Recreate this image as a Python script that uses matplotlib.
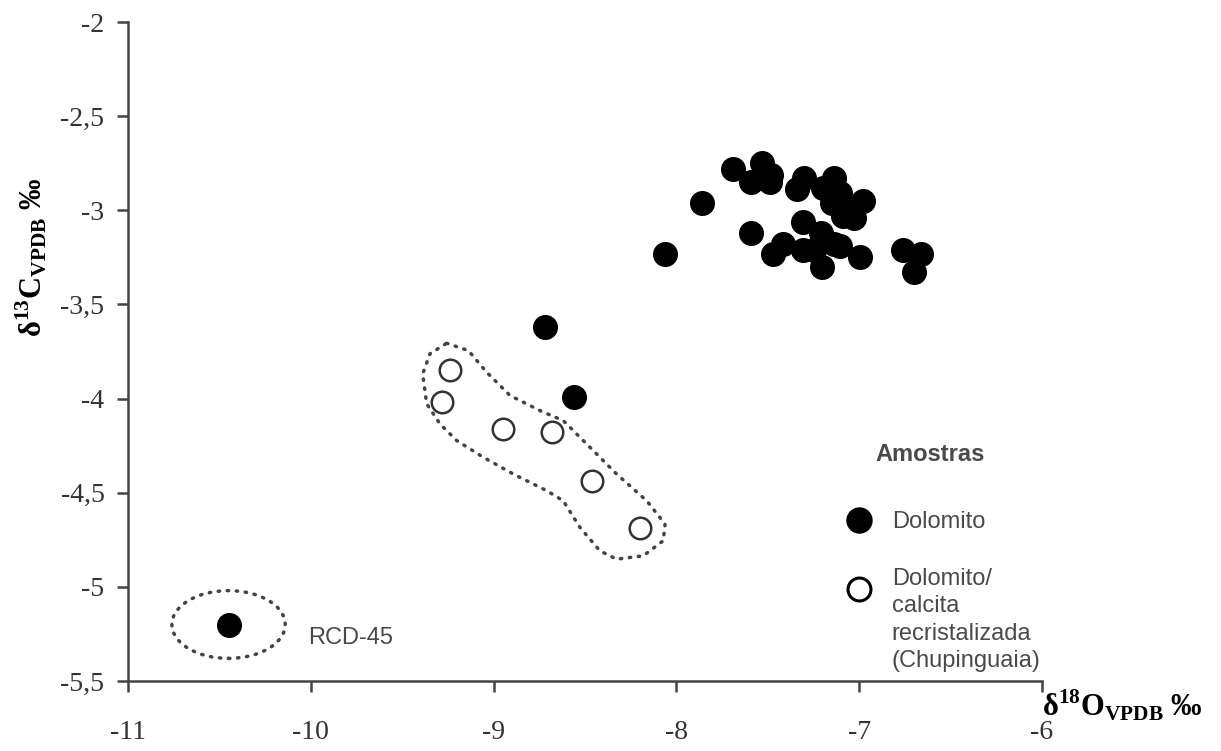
import matplotlib
matplotlib.use("Agg")
import matplotlib.pyplot as plt
from matplotlib.patches import Ellipse

# delta18O (x) and delta13C (y), per mil VPDB
dolomito_x = [-8.06, -7.86, -7.69, -7.53, -7.59, -7.49, -7.48, -7.34, -7.30, -7.14,
              -7.20, -7.105, -7.15, -6.98, -7.03, -7.09, -7.07, -7.59, -7.31, -7.415,
              -7.47, -7.31, -7.21, -7.14, -7.25, -7.205, -7.105, -6.995, -6.76, -6.66,
              -6.70, -8.72, -8.56, -10.45]
dolomito_y = [-3.23, -2.96, -2.78, -2.75, -2.85, -2.85, -2.81, -2.885, -2.83, -2.83,
              -2.88, -2.91, -2.96, -2.95, -3.04, -3.03, -2.98, -3.12, -3.06, -3.18,
              -3.23, -3.21, -3.12, -3.18, -3.21, -3.30, -3.19, -3.25, -3.21, -3.23,
              -3.33, -3.62, -3.99, -5.20]

recrist_x = [-9.24, -9.28, -8.95, -8.68, -8.46, -8.20]
recrist_y = [-3.85, -4.02, -4.16, -4.18, -4.44, -4.69]

# dotted outline around the recrystallised group
outline_x = [-9.257, -9.138, -9.038, -8.910, -8.746, -8.619, -8.491, -8.327, -8.162, -8.062,
             -8.072, -8.181, -8.327, -8.418, -8.527, -8.619, -8.710, -8.892, -9.056, -9.202,
             -9.293, -9.366, -9.388, -9.348, -9.257]
outline_y = [-3.706, -3.745, -3.860, -3.984, -4.064, -4.117, -4.241, -4.401, -4.543, -4.667,
             -4.755, -4.835, -4.853, -4.809, -4.685, -4.543, -4.489, -4.401, -4.312, -4.223,
             -4.135, -4.028, -3.869, -3.762, -3.706]

xticks = [-11, -10, -9, -8, -7, -6]
yticks = [-2, -2.5, -3, -3.5, -4, -4.5, -5, -5.5]
ytick_labels = ["-2", "-2,5", "-3", "-3,5", "-4", "-4,5", "-5", "-5,5"]

plt.rcParams["mathtext.fontset"] = "custom"
plt.rcParams["mathtext.bf"] = "Liberation Serif:bold"
plt.rcParams["mathtext.rm"] = "Liberation Serif:bold"

AX = "#444444"
TXT = "#4a4a4a"
SANS = "Liberation Sans"

fig = plt.figure(figsize=(12.21, 7.51), dpi=100)
ax = fig.add_axes([128 / 1221, (751 - 681) / 751, 914 / 1221, 659 / 751])

ax.plot(dolomito_x, dolomito_y, "o", ms=17, color="black", mec="black", zorder=3)
ax.plot(recrist_x, recrist_y, "o", ms=15.5, mfc="white", mec="#333333", mew=1.8, zorder=3)

ax.plot(outline_x, outline_y, color=AX, lw=2.5, linestyle=(0, (0.4, 2.2)),
        dash_capstyle="round", zorder=2)
ax.add_patch(Ellipse((-10.45, -5.20), 0.62, 0.36, fill=False, ec=AX, lw=2.5,
                     linestyle=(0, (0.4, 2.2)), capstyle="round", zorder=2))
ax.text(-10.015, -5.27, "RCD-45", fontsize=17, color=TXT, family=SANS,
        ha="left", va="center")

# legend drawn by hand
ax.text(-6.914, -4.298, "Amostras", fontsize=17, fontweight="bold", color=TXT,
        family=SANS, ha="left", va="center")
ax.plot([-7.0], [-4.645], "o", ms=18, color="black", clip_on=False)
ax.text(-6.822, -4.658, "Dolomito", fontsize=17, color=TXT, family=SANS,
        ha="left", va="center")
ax.plot([-7.0], [-5.012], "o", ms=16.5, mfc="white", mec="black", mew=2.2, clip_on=False)
ax.text(-6.822, -5.176, "Dolomito/\ncalcita\nrecristalizada\n(Chupinguaia)", fontsize=17,
        color=TXT, family=SANS, ha="left", va="center", linespacing=1.32)

ax.set_xlim(-11, -6)
ax.set_ylim(-5.5, -2)
ax.set_xticks(xticks)
ax.set_xticklabels([str(t) for t in xticks])
ax.set_yticks(yticks)
ax.set_yticklabels(ytick_labels)
for lab in ax.get_xticklabels() + ax.get_yticklabels():
    lab.set_family("Liberation Serif")
    lab.set_fontsize(20)
    lab.set_color("#333333")
ax.tick_params(axis="x", direction="out", length=8, width=1.8, color=AX, pad=20)
ax.tick_params(axis="y", direction="out", length=8, width=1.8, color=AX, pad=9)

for s in ["top", "right"]:
    ax.spines[s].set_visible(False)
for s in ["left", "bottom"]:
    ax.spines[s].set_color(AX)
    ax.spines[s].set_linewidth(1.8)

ax.text(1.0, -0.036, r"δ$^{\mathbf{18}}$O$_{\mathbf{VPDB}}$ ‰", transform=ax.transAxes,
        fontsize=22, fontweight="bold", family="Liberation Serif", ha="left", va="center")
ax.text(-0.106, 0.642, r"δ$^{\mathbf{13}}$C$_{\mathbf{VPDB}}$ ‰", transform=ax.transAxes,
        fontsize=22, fontweight="bold", family="Liberation Serif", ha="center", va="center",
        rotation=90)

fig.savefig("out.png", dpi=100)
